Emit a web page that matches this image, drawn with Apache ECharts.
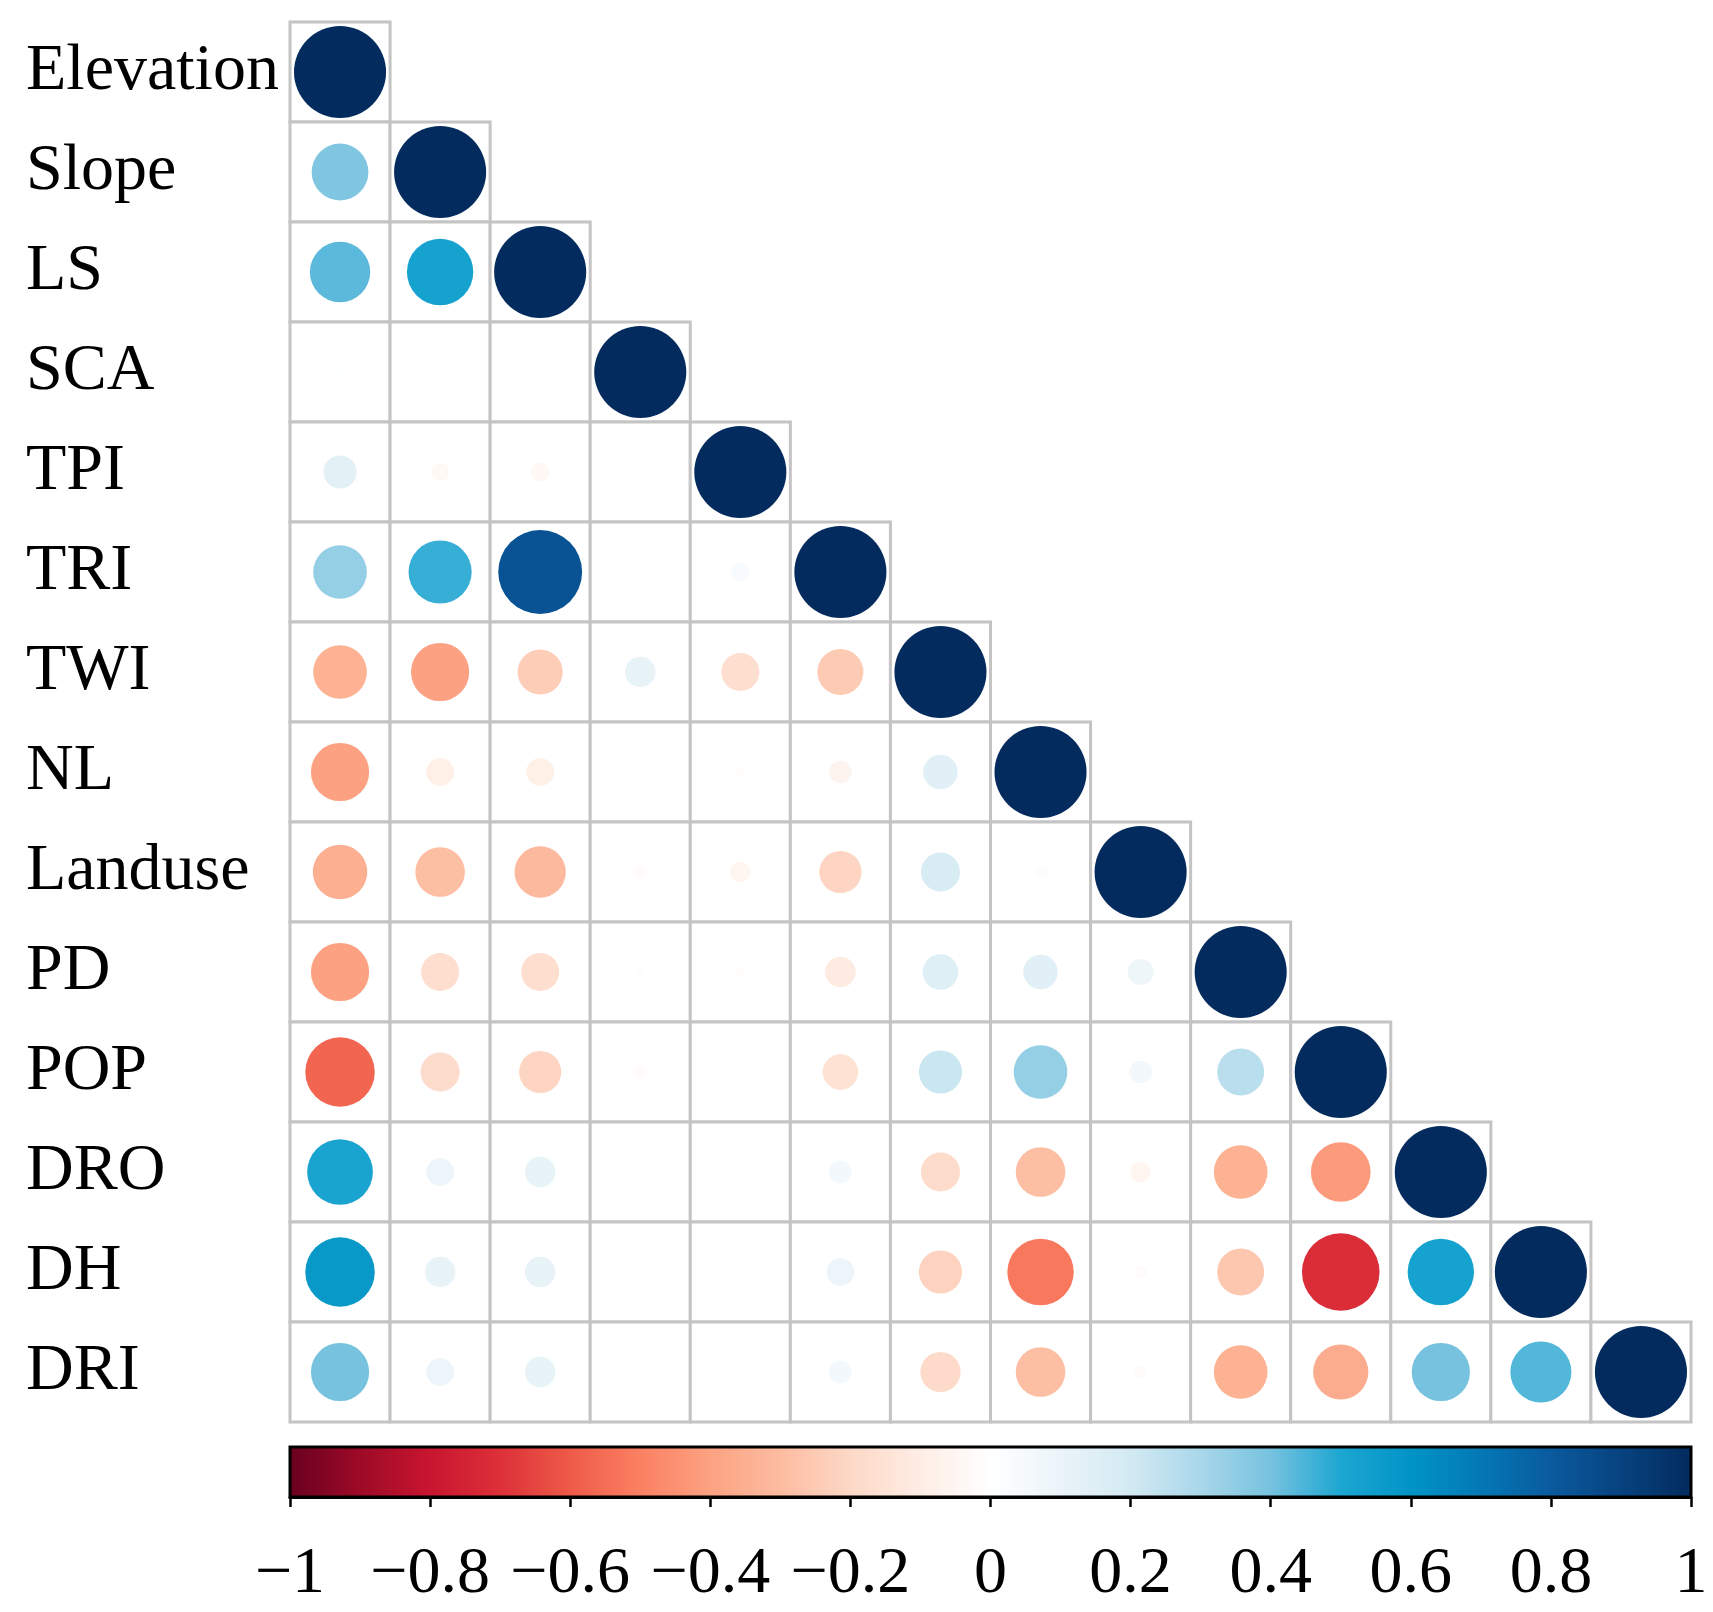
<!DOCTYPE html>
<html>
<head>
<meta charset="utf-8">
<script src="https://cdn.jsdelivr.net/npm/echarts@6/dist/echarts.min.js"></script>
<style>
  html, body { margin: 0; padding: 0; background: #fff; }
  #chart { width: 1713px; height: 1612px; }
</style>
</head>
<body>
<div id="chart"></div>
<script>
// variable names, top to bottom / left to right
const variables = ["Elevation", "Slope", "LS", "SCA", "TPI", "TRI", "TWI", "NL",
  "Landuse", "PD", "POP", "DRO", "DH", "DRI"];

// lower-triangle correlation rows
const rowElevation = [1];
const rowSlope = [0.38, 1];
const rowLS = [0.43, 0.52, 1];
const rowSCA = [0.01, 0, 0, 1];
const rowTPI = [0.13, -0.04, -0.04, 0, 1];
const rowTRI = [0.34, 0.47, 0.83, 0, 0.04, 1];
const rowTWI = [-0.34, -0.40, -0.24, 0.11, -0.17, -0.25, 1];
const rowNL = [-0.40, -0.09, -0.09, 0, -0.01, -0.06, 0.14, 1];
const rowLanduse = [-0.35, -0.29, -0.31, -0.02, -0.05, -0.21, 0.18, 0.02, 1];
const rowPD = [-0.40, -0.17, -0.17, -0.01, -0.01, -0.11, 0.15, 0.14, 0.08, 1];
const rowPOP = [-0.57, -0.18, -0.21, -0.02, 0, -0.15, 0.22, 0.34, 0.06, 0.26, 1];
const rowDRO = [0.51, 0.09, 0.11, 0.01, 0.005, 0.06, -0.18, -0.29, -0.05, -0.34, -0.42, 1];
const rowDH = [0.57, 0.11, 0.11, 0.01, 0, 0.09, -0.22, -0.52, -0.02, -0.26, -0.71, 0.52, 1];
const rowDRI = [0.40, 0.09, 0.11, 0.005, 0, 0.06, -0.19, -0.29, -0.02, -0.34, -0.36, 0.40, 0.44, 1];

const corrRows = [rowElevation, rowSlope, rowLS, rowSCA, rowTPI, rowTRI, rowTWI, rowNL,
  rowLanduse, rowPD, rowPOP, rowDRO, rowDH, rowDRI];

// colour stops for -1, -0.9, ..., 1
const palette = ["#67001F", "#9C0A27", "#C81530", "#DC3038", "#EE5A48", "#FB8062",
  "#FCA282", "#FDBCA0", "#FDD8C6", "#FEEDE4", "#FFFFFF",
  "#EAF4F9", "#D3EAF3", "#A8D7EA", "#76C2DF", "#1CA6D1",
  "#0094C6", "#0478B4", "#0A5A9E", "#07427E", "#032B5E"];

const GRID_L = 290, GRID_T = 22, GRID_W = 1401, GRID_H = 1400;
const CELL = GRID_W / variables.length;
const FONT = '"Liberation Serif", "Times New Roman", serif';

const points = [];
corrRows.forEach((row, i) => {
  row.forEach((v, j) => points.push([j, i, v]));
});

const chart = echarts.init(document.getElementById("chart"));

chart.setOption({
  backgroundColor: "#fff",
  animation: false,
  grid: [
    { left: GRID_L, top: GRID_T, width: GRID_W, height: GRID_H },
    { left: GRID_L, top: 1447, width: GRID_W, height: 50 }
  ],
  xAxis: [
    {
      gridIndex: 0, type: "category", data: variables,
      axisLine: { show: false }, axisTick: { show: false }, axisLabel: { show: false },
      splitLine: { show: false }
    },
    {
      gridIndex: 1, type: "value", min: -1, max: 1, interval: 0.2,
      axisLine: { show: true, lineStyle: { color: "#000", width: 3 } },
      axisTick: { show: true, length: 10, lineStyle: { color: "#000", width: 2.5 } },
      splitLine: { show: false },
      axisLabel: {
        margin: 45, fontSize: 66, fontFamily: FONT, color: "#000",
        formatter: v => {
          const r = Math.round(v * 10) / 10;
          return r === 0 ? "0" : String(r).replace("-", "\u2212");
        }
      }
    }
  ],
  yAxis: [
    {
      gridIndex: 0, type: "category", data: variables, inverse: true,
      axisLine: { show: false }, axisTick: { show: false }, splitLine: { show: false },
      axisLabel: { align: "left", margin: GRID_L - 26, fontSize: 66, fontFamily: FONT, color: "#000" }
    },
    { gridIndex: 1, type: "value", min: 0, max: 1, show: false }
  ],
  visualMap: {
    show: false, type: "continuous", min: -1, max: 1, dimension: 2,
    seriesIndex: 1, inRange: { color: palette }
  },
  series: [
    {
      // cell outlines of the lower triangle
      type: "custom", xAxisIndex: 0, yAxisIndex: 0, z: 1,
      data: points.map(p => [p[0], p[1]]),
      renderItem: (params, api) => {
        const c = api.coord([api.value(0), api.value(1)]);
        const s = api.size([1, 1]);
        return {
          type: "rect",
          shape: { x: c[0] - s[0] / 2, y: c[1] - s[1] / 2, width: s[0], height: s[1] },
          style: { fill: "#fff", stroke: "#C4C4C4", lineWidth: 3 }
        };
      }
    },
    {
      type: "scatter", xAxisIndex: 0, yAxisIndex: 0, z: 3,
      data: points,
      symbol: "circle",
      symbolSize: v => CELL * 0.92 * Math.sqrt(Math.abs(v[2])),
      itemStyle: { opacity: 1 }
    },
    {
      // colour bar
      type: "custom", xAxisIndex: 1, yAxisIndex: 1, z: 2,
      data: [[-1, 1]],
      renderItem: (params, api) => {
        const a = api.coord([api.value(0), 1]);
        const b = api.coord([api.value(1), 0]);
        const stops = palette.map((c, k) => ({ offset: k / (palette.length - 1), color: c }));
        return {
          type: "rect",
          shape: { x: a[0], y: a[1], width: b[0] - a[0], height: b[1] - a[1] },
          style: {
            fill: new echarts.graphic.LinearGradient(0, 0, 1, 0, stops),
            stroke: "#000", lineWidth: 3
          }
        };
      }
    }
  ]
});
</script>
</body>
</html>
